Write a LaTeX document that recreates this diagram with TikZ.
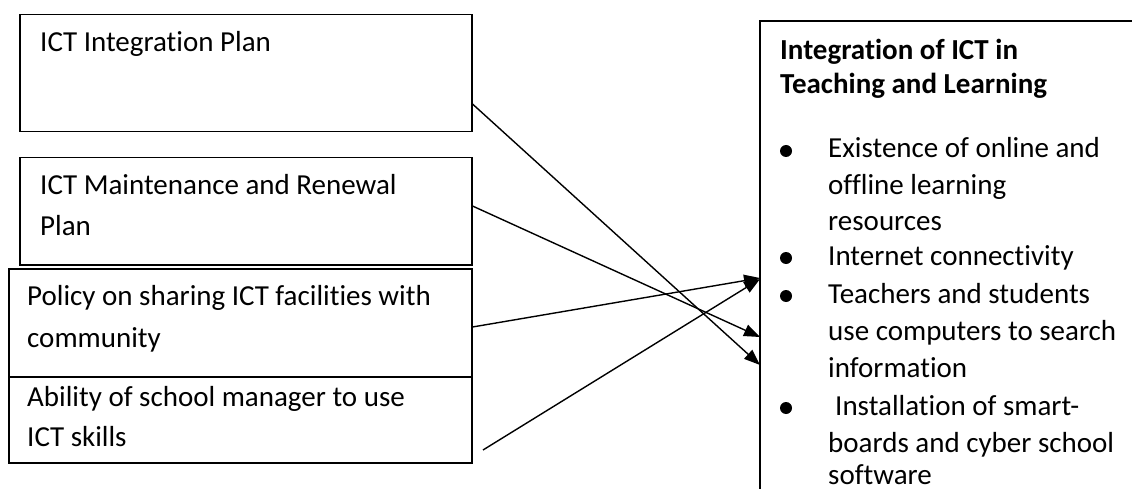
\documentclass[tikz,border=0pt]{standalone}
\usepackage{fontspec}
\setmainfont{Carlito}[Ligatures={NoCommon}]
\usetikzlibrary{arrows.meta}
\begin{document}
\begin{tikzpicture}[x=1pt,y=-1pt,
  box/.style={draw, line width=1.5pt, inner sep=0pt, anchor=north west},
  txt/.style={anchor=base west, inner sep=0pt, font=\fontsize{29}{36}\selectfont},
  ttl/.style={anchor=base west, inner sep=0pt, font=\fontsize{29}{36}\selectfont\bfseries},
  conn/.style={line width=1.4pt, -{Triangle[length=16pt,width=12pt]}},
  bulletdot/.style={circle, fill=black, inner sep=0pt, minimum size=12pt}]
\useasboundingbox (0,0) rectangle (1132,489);
% left boxes
\node[box, minimum width=452pt, minimum height=117pt] (b1) at (19,14) {};
\node[box, minimum width=452pt, minimum height=107pt] (b2) at (19,157) {};
\node[box, minimum width=463pt, minimum height=108pt] (b3) at (8,268) {};
\node[box, minimum width=463pt, minimum height=86pt] (b4) at (8,376) {};
\node[txt] (l1) at (40,52) {ICT Integration Plan};
\node[txt] (l2a) at (40,195) {ICT Maintenance and Renewal};
\node[txt] (l2b) at (40,235) {Plan};
\node[txt] (l3a) at (27,305) {Policy on sharing ICT facilities with};
\node[txt] (l3b) at (27,347) {community};
\node[txt] (l4a) at (27,406) {Ability of school manager to use};
\node[txt] (l4b) at (27,446) {ICT skills};
% right box
\node[inner sep=0pt, anchor=north west, minimum width=380pt, minimum height=480pt] (r) at (760,21) {};
\draw[line width=1.5pt] (r.north east) -- (r.north west) -- (r.south west);
\node[ttl] (t1a) at (780,60) {Integration of ICT in};
\node[ttl] (t1b) at (780,94) {Teaching and Learning};
\node[bulletdot] (d1) at (786,151) {};
\node[bulletdot] (d2) at (786,258) {};
\node[bulletdot] (d3) at (786,296) {};
\node[bulletdot] (d4) at (786,408) {};
\node[txt] (r1) at (828,158) {Existence of online and};
\node[txt] (r2) at (828,195) {offline learning};
\node[txt] (r3) at (828,230) {resources};
\node[txt] (r4) at (828,265) {Internet connectivity};
\node[txt] (r5) at (828,303) {Teachers and students};
\node[txt] (r6) at (828,340) {use computers to search};
\node[txt] (r7) at (828,377) {information};
\node[txt] (r8) at (835,415) {Installation of smart-};
\node[txt] (r9) at (828,452) {boards and cyber school};
\node[txt] (r10) at (828,484) {software};
% connectors
\coordinate (s1) at ([yshift=-90pt]b1.north east);
\coordinate (s2) at ([yshift=-49pt]b2.north east);
\coordinate (s3) at ([yshift=-59pt]b3.north east);
\coordinate (s4) at (483,450);
\coordinate (e1) at ([yshift=-344pt]r.north west);
\coordinate (e2) at ([yshift=-316pt]r.north west);
\coordinate (e3) at ([yshift=-257pt]r.north west);
\coordinate (e4) at ([yshift=-258pt]r.north west);
\draw[conn] (s1) -- (e1);
\draw[conn] (s2) -- (e2);
\draw[conn] (s3) -- (e3);
\draw[conn] (s4) -- (e4);
\end{tikzpicture}
\end{document}
